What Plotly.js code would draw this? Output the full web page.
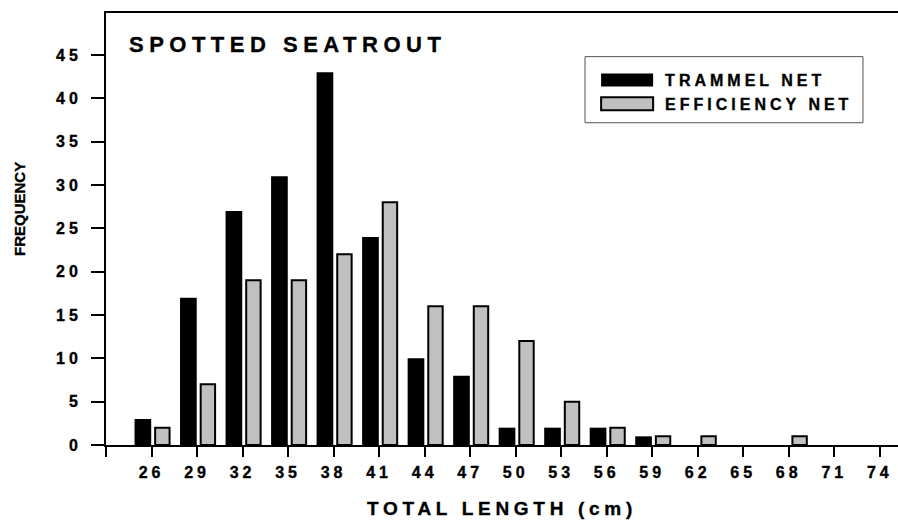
<!DOCTYPE html>
<html><head><meta charset="utf-8">
<script src="https://cdn.plot.ly/plotly-3.0.1.min.js"></script>
<style>
html,body{margin:0;padding:0;background:#fff;}
#chart{width:898px;height:521px;}
.xtick text, .ytick text { letter-spacing: 4px; }
.gtitle { letter-spacing: 5.5px; }
.xtitle { letter-spacing: 4.7px; }
.legendtext { letter-spacing: 4px; }
#chart text { stroke: #000; stroke-width: 0.35px; }
</style></head><body><div id="chart"></div>
<script>
// Data
const lengths = [26, 29, 32, 35, 38, 41, 44, 47, 50, 53, 56, 59, 62, 65, 68, 71, 74];
const trammelNet = [3, 17, 27, 31, 43, 24, 10, 8, 2, 2, 2, 1, 0, 0, 0, 0, 0];
const efficiencyNet = [2, 7, 19, 19, 22, 28, 16, 16, 12, 5, 2, 1, 1, 0, 1, 0, 0];
const xTickVals = [23, 26, 29, 32, 35, 38, 41, 44, 47, 50, 53, 56, 59, 62, 65, 68, 71, 74];
const xTickText = ['', '26', '29', '32', '35', '38', '41', '44', '47', '50', '53', '56', '59', '62', '65', '68', '71', '74'];
const yTickVals = [0, 5, 10, 15, 20, 25, 30, 35, 40, 45];
const seriesNames = ['TRAMMEL NET', 'EFFICIENCY NET'];

const FONT = 'Liberation Sans, Arial, sans-serif';

const traces = [
  {
    type: 'bar', name: seriesNames[0], x: lengths, y: trammelNet,
    width: 1.1, offset: -1.12,
    marker: {color: '#000000', line: {color: '#000000', width: 0}}
  },
  {
    type: 'bar', name: seriesNames[1], x: lengths, y: efficiencyNet,
    width: 0.95, offset: 0.24,
    marker: {color: '#c0c0c0', line: {color: '#000000', width: efficiencyNet.map(function (v) { return v > 0 ? 2 : 0; })}}
  }
];

const layout = {
  width: 898, height: 521,
  margin: {l: 106, r: 0, t: 13, b: 76, pad: 0},
  paper_bgcolor: '#ffffff', plot_bgcolor: '#ffffff',
  barmode: 'overlay',
  font: {family: FONT, color: '#000000', size: 16, weight: 'bold'},
  title: {
    text: 'SPOTTED SEATROUT',
    font: {family: FONT, size: 22, weight: 'bold', color: '#000000'},
    xref: 'paper', x: 0.029, xanchor: 'left',
    yref: 'container', y: 0.9155, yanchor: 'middle'
  },
  xaxis: {
    range: [23, 75.2],
    tickmode: 'array', tickvals: xTickVals, ticktext: xTickText,
    ticks: 'outside', ticklen: 10, tickwidth: 2, tickcolor: '#000000',
    showline: true, linewidth: 2, linecolor: '#000000', mirror: true,
    showgrid: false, zeroline: false,
    tickfont: {family: FONT, size: 16, weight: 'bold', color: '#000000'},
    ticklabelstandoff: 2,
    title: {text: 'TOTAL LENGTH (cm)', font: {family: FONT, size: 19, weight: 'bold', color: '#000000'}, standoff: 21}
  },
  yaxis: {
    range: [0, 49.85],
    tickmode: 'array', tickvals: yTickVals,
    ticks: 'outside', ticklen: 13, tickwidth: 2, tickcolor: '#000000',
    showline: true, linewidth: 2, linecolor: '#000000',
    showgrid: false, zeroline: false,
    tickfont: {family: FONT, size: 16, weight: 'bold', color: '#000000'},
    ticklabelstandoff: 6
  },
  annotations: [{
    text: 'FREQUENCY', textangle: -90,
    xref: 'paper', yref: 'paper', x: -0.11, y: 0.546,
    xanchor: 'center', yanchor: 'middle', showarrow: false,
    font: {family: FONT, size: 15, weight: 'bold', color: '#000000'}
  }],
  shapes: [{
    type: 'rect', xref: 'paper', yref: 'paper',
    x0: 0.6048, x1: 0.9558, y0: 0.746, y1: 0.899,
    line: {color: '#555555', width: 1}, fillcolor: '#ffffff', layer: 'below'
  }],
  showlegend: true,
  legend: {
    x: 0.610, y: 0.884, xanchor: 'left', yanchor: 'top',
    bgcolor: 'rgba(0,0,0,0)', borderwidth: 0,
    itemwidth: 66, traceorder: 'normal',
    font: {family: FONT, size: 16, weight: 'bold', color: '#000000'}
  }
};

Plotly.newPlot('chart', traces, layout, {staticPlot: true, displayModeBar: false}).then(function (gd) {
  gd.querySelectorAll('.legendpoints path').forEach(function (p) {
    p.setAttribute('d', 'M26,6.5H-26V-6.5H26Z');
  });
});
</script>
</body></html>
